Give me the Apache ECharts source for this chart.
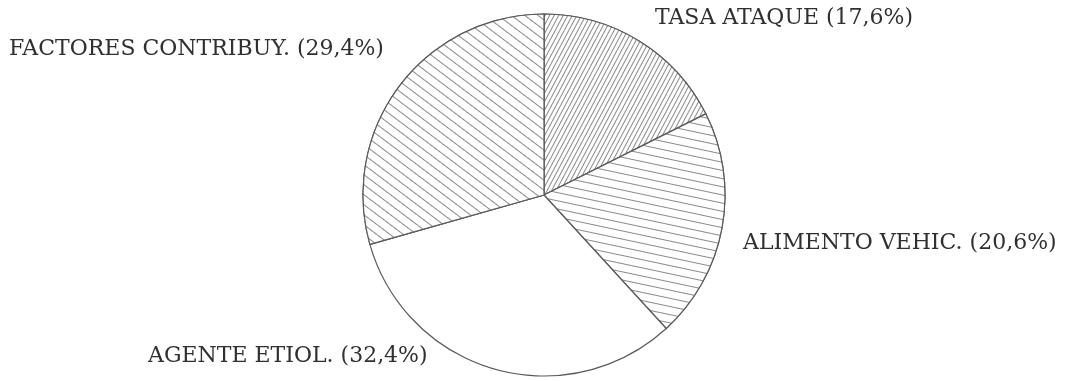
<!DOCTYPE html>
<html>
<head>
<meta charset="utf-8">
<style>
  html, body { margin: 0; padding: 0; background: #ffffff; }
  #chart { width: 1073px; height: 381px; }
</style>
<script src="https://cdn.jsdelivr.net/npm/echarts@6/dist/echarts.min.js"></script>
</head>
<body>
<div id="chart"></div>
<script>
// Share of each factor (percent), clockwise from 12 o'clock
const categories = ['TASA ATAQUE', 'ALIMENTO VEHIC.', 'AGENTE ETIOL.', 'FACTORES CONTRIBUY.'];
const shares = [17.6, 20.6, 32.4, 29.4];

// Hatch style per slice (null = plain white)
const hatches = [
  { rotation: -62 * Math.PI / 180, gap: 3 },
  { rotation: 12 * Math.PI / 180, gap: 7 },
  null,
  { rotation: 37 * Math.PI / 180, gap: 7 }
];

// Label anchor points (left edge, vertical middle)
const labelSpots = [
  { x: 655, y: 18 },
  { x: 743, y: 243 },
  { x: 148, y: 356 },
  { x: 9, y: 49 }
];

const fmtPct = v => v.toFixed(1).replace('.', ',') + '%';

const chart = echarts.init(document.getElementById('chart'), null, { renderer: 'canvas' });

chart.setOption({
  backgroundColor: '#ffffff',
  animation: false,
  series: [{
    type: 'pie',
    center: [544, 195],
    radius: 181,
    startAngle: 90,
    clockwise: true,
    silent: true,
    data: categories.map((name, i) => ({
      name,
      value: shares[i],
      itemStyle: hatches[i] ? {
        decal: {
          symbol: 'rect',
          symbolSize: 1,
          dashArrayX: [1, 0],
          dashArrayY: [1, hatches[i].gap],
          rotation: hatches[i].rotation,
          color: '#8a8a8a',
          backgroundColor: '#ffffff'
        }
      } : {}
    })),
    itemStyle: {
      color: '#ffffff',
      borderColor: '#5a5a5a',
      borderWidth: 1.2
    },
    label: {
      show: true,
      position: 'outside',
      overflow: 'none',
      formatter: p => p.name + ' (' + fmtPct(p.value) + ')',
      fontFamily: '"DejaVu Serif", "Liberation Serif", serif',
      fontSize: 22,
      color: '#303030'
    },
    labelLine: { show: false },
    labelLayout: p => ({
      x: labelSpots[p.dataIndex].x,
      y: labelSpots[p.dataIndex].y,
      align: 'left',
      verticalAlign: 'middle',
      hideOverlap: false
    })
  }]
});
</script>
</body>
</html>
